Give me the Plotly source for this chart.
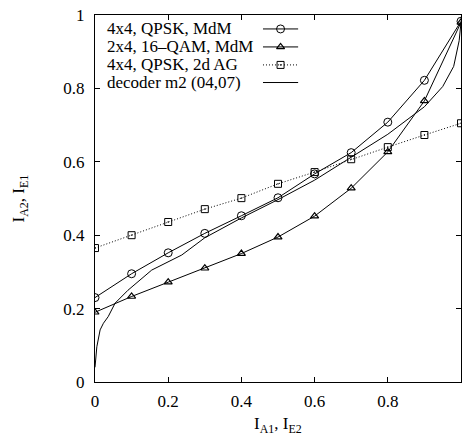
import plotly.graph_objects as go

# ---- data ----
x_pts = [0.0, 0.1, 0.2, 0.3, 0.4, 0.5, 0.6, 0.7, 0.8, 0.9, 1.0]
y_qpsk_mdm = [0.23, 0.295, 0.352, 0.405, 0.453, 0.502, 0.567, 0.625, 0.708, 0.822, 0.983]
y_16qam_mdm = [0.19, 0.233, 0.272, 0.31, 0.35, 0.395, 0.452, 0.528, 0.627, 0.766, 0.98]
y_qpsk_2dag = [0.365, 0.40, 0.436, 0.471, 0.501, 0.54, 0.572, 0.607, 0.64, 0.673, 0.705]
x_dec = [0.0, 0.005, 0.014, 0.023, 0.036, 0.055, 0.09, 0.155, 0.237, 0.3, 0.4, 0.5, 0.6,
         0.7, 0.8, 0.9, 0.95, 0.98, 0.995, 1.0]
y_dec = [0.04, 0.096, 0.142, 0.16, 0.178, 0.215, 0.25, 0.305, 0.346, 0.393, 0.447, 0.497, 0.55,
         0.612, 0.675, 0.75, 0.805, 0.86, 0.93, 0.98]
labels = ["4x4, QPSK, MdM", "2x4, 16\u2013QAM, MdM", "4x4, QPSK, 2d AG", "decoder m2 (04,07)"]
tick_vals = [0, 0.2, 0.4, 0.6, 0.8, 1]
tick_text = ["0", "0.2", "0.4", "0.6", "0.8", "1"]

FONT = "Liberation Serif"
FS = 17
LW = 1
DOT = "1px,2px"

M_CIRC = dict(symbol="circle-open", size=8, color="black", line=dict(width=1))
M_TRI = dict(symbol="triangle-up-open", size=7, color="black", line=dict(width=1.2))
M_SQ = dict(symbol="square-open-dot", size=7, color="black", line=dict(width=1))

fig = go.Figure()
fig.add_trace(go.Scatter(x=x_pts, y=y_qpsk_mdm, mode="lines+markers",
                         line=dict(color="black", width=LW), marker=M_CIRC))
fig.add_trace(go.Scatter(x=x_pts, y=y_16qam_mdm, mode="lines+markers",
                         line=dict(color="black", width=LW), marker=M_TRI))
fig.add_trace(go.Scatter(x=x_pts, y=y_qpsk_2dag, mode="lines+markers",
                         line=dict(color="black", width=LW, dash=DOT), marker=M_SQ))
fig.add_trace(go.Scatter(x=x_dec, y=y_dec, mode="lines",
                         line=dict(color="black", width=LW)))

# ---- custom gnuplot-style legend (text left, sample right) ----
row_y = [0.962, 0.913, 0.864, 0.816]
sx0, sx1 = 0.459, 0.555
styles = [
    dict(line=dict(color="black", width=LW), marker=M_CIRC),
    dict(line=dict(color="black", width=LW), marker=M_TRI),
    dict(line=dict(color="black", width=LW, dash=DOT), marker=M_SQ),
    dict(line=dict(color="black", width=LW), marker=None),
]
for i, (lab, ry, st) in enumerate(zip(labels, row_y, styles)):
    fig.add_trace(go.Scatter(x=[sx0, sx1], y=[ry, ry], mode="lines", line=st["line"],
                             xaxis="x2", yaxis="y2", hoverinfo="skip"))
    if st["marker"] is not None:
        fig.add_trace(go.Scatter(x=[(sx0 + sx1) / 2], y=[ry], mode="markers", marker=st["marker"],
                                 xaxis="x2", yaxis="y2", hoverinfo="skip"))
    fig.add_annotation(x=0.027, y=ry, xref="paper", yref="paper", text=lab, showarrow=False,
                       xanchor="left", yanchor="middle", font=dict(family=FONT, size=FS, color="black"))

axis_common = dict(range=[0, 1], tickvals=tick_vals, ticktext=tick_text, ticks="inside", ticklen=5,
                   tickcolor="black", showline=True, linecolor="black", linewidth=1, mirror="ticks",
                   showgrid=False, zeroline=False, tickfont=dict(family=FONT, size=FS, color="black"))

fig.update_layout(
    width=462, height=440,
    margin=dict(l=95, r=1, t=15, b=58),
    paper_bgcolor="white", plot_bgcolor="white",
    showlegend=False, hovermode=False,
    xaxis=dict(**axis_common, ticklabelstandoff=4),
    yaxis=dict(**axis_common, ticklabelstandoff=6),
    xaxis2=dict(range=[0, 1], overlaying="x", visible=False, domain=[0, 1]),
    yaxis2=dict(range=[0, 1], overlaying="y", visible=False, domain=[0, 1]),
)
fig.add_annotation(x=0.5, y=-0.118, xref="paper", yref="paper", showarrow=False,
                   text="I<sub>A1</sub>, I<sub>E2</sub>", xanchor="center", yanchor="middle",
                   font=dict(family=FONT, size=FS, color="black"))
fig.add_annotation(x=-0.205, y=0.5, xref="paper", yref="paper", showarrow=False, textangle=-90,
                   text="I<sub>A2</sub>, I<sub>E1</sub>", xanchor="center", yanchor="middle",
                   font=dict(family=FONT, size=FS, color="black"))

fig.write_html("out.html", config={"displayModeBar": False, "staticPlot": True},
               post_script="document.body.style.margin='0';document.body.style.overflow='hidden';"
                           "document.documentElement.style.overflow='hidden';")
